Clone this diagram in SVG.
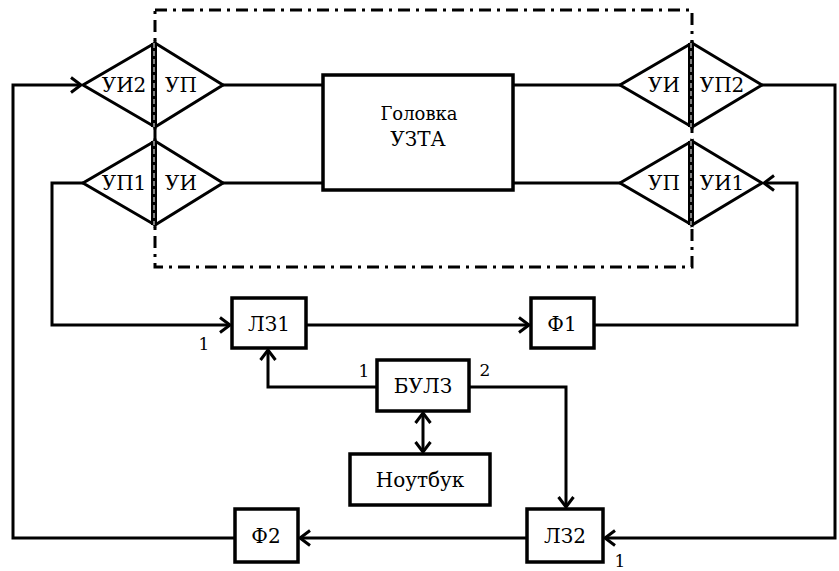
<svg xmlns="http://www.w3.org/2000/svg" width="839" height="571" viewBox="0 0 839 571">
<style>
.box{fill:#fff;stroke:#000;stroke-width:3.5}
.dia{fill:#fff;stroke:#000;stroke-width:3;stroke-linejoin:miter}
.ln{fill:none;stroke:#000;stroke-width:3}
.dd{fill:none;stroke:#000;stroke-width:3;stroke-dasharray:12 6 3 6}
text{font-family:'DejaVu Serif','Liberation Serif','Times New Roman',serif;fill:#000;text-anchor:middle}
.t{font-size:20px}
.s{font-size:18px}
.n{font-size:17px}
</style>
<defs>
<marker id="ar" markerUnits="userSpaceOnUse" markerWidth="20" markerHeight="20" viewBox="-12 -10 14 20" refX="0" refY="0" orient="auto-start-reverse">
<path d="M-10,-7.5 L0,0 L-10,7.5" fill="none" stroke="#000" stroke-width="3"/>
</marker>
</defs>
<rect width="839" height="571" fill="#fff"/>
<g id="frame">
<path class="dd" d="M155,10 H692 V267 H155 Z"/>
</g>
<g id="connectors">
<path class="ln" d="M223,85 H323"/>
<path class="ln" d="M223,183 H323"/>
<path class="ln" d="M513,85 H620"/>
<path class="ln" d="M513,183 H620"/>
<path class="ln" d="M762,85 H835 V538 H605" marker-end="url(#ar)"/>
<path class="ln" d="M594,325 H797 V183 H764" marker-end="url(#ar)"/>
<path class="ln" d="M306,325 H529" marker-end="url(#ar)"/>
<path class="ln" d="M83,183 H52 V325 H230" marker-end="url(#ar)"/>
<path class="ln" d="M235,538 H13 V85 H81" marker-end="url(#ar)"/>
<path class="ln" d="M527,538 H300" marker-end="url(#ar)"/>
<path class="ln" d="M377,387 H268 V350" marker-end="url(#ar)"/>
<path class="ln" d="M469,387 H566 V507" marker-end="url(#ar)"/>
<path class="ln" d="M423,413 V452" marker-start="url(#ar)" marker-end="url(#ar)"/>
<text class="n" x="204" y="350">1</text>
<text class="n" x="364" y="377">1</text>
<text class="n" x="485" y="376">2</text>
<text class="n" x="620" y="567">1</text>
</g>
<g id="ui2-up">
<path class="dia" d="M155,43 L83,85 L155,127 Z"/>
<path class="dia" d="M155,43 L223,85 L155,127 Z"/>
<rect x="151" y="43" width="6" height="84" fill="#000"/>
<line x1="154" y1="43" x2="154" y2="127" stroke="#fff" stroke-width="1" stroke-dasharray="5 3"/>
<text class="t" x="124" y="92">УИ2</text>
<text class="t" x="181" y="92">УП</text>
</g>
<g id="up1-ui">
<path class="dia" d="M155,141 L83,183 L155,225 Z"/>
<path class="dia" d="M155,141 L223,183 L155,225 Z"/>
<rect x="151" y="141" width="6" height="84" fill="#000"/>
<line x1="154" y1="141" x2="154" y2="225" stroke="#fff" stroke-width="1" stroke-dasharray="5 3"/>
<text class="t" x="124" y="190">УП1</text>
<text class="t" x="181" y="190">УИ</text>
</g>
<g id="ui-up2">
<path class="dia" d="M692,43 L620,85 L692,127 Z"/>
<path class="dia" d="M692,43 L762,85 L692,127 Z"/>
<rect x="688" y="43" width="6" height="84" fill="#000"/>
<line x1="691" y1="43" x2="691" y2="127" stroke="#fff" stroke-width="1" stroke-dasharray="5 3"/>
<text class="t" x="664" y="92">УИ</text>
<text class="t" x="722" y="92">УП2</text>
</g>
<g id="up-ui1">
<path class="dia" d="M692,141 L620,183 L692,225 Z"/>
<path class="dia" d="M692,141 L762,183 L692,225 Z"/>
<rect x="688" y="141" width="6" height="84" fill="#000"/>
<line x1="691" y1="141" x2="691" y2="225" stroke="#fff" stroke-width="1" stroke-dasharray="5 3"/>
<text class="t" x="664" y="190">УП</text>
<text class="t" x="722" y="190">УИ1</text>
</g>
<g id="head">
<rect class="box" x="323" y="75" width="190" height="115"/>
<text class="s" x="419" y="120">Головка</text>
<text class="t" x="418" y="146">УЗТА</text>
</g>
<g id="lz1">
<rect class="box" x="232" y="298" width="74" height="50"/>
<text class="t" x="269" y="331">ЛЗ1</text>
</g>
<g id="f1">
<rect class="box" x="531" y="298" width="63" height="50"/>
<text class="t" x="562" y="331">Ф1</text>
</g>
<g id="bulz">
<rect class="box" x="377" y="360" width="92" height="51"/>
<text class="t" x="423" y="393">БУЛЗ</text>
</g>
<g id="notebook">
<rect class="box" x="350" y="454" width="140" height="51"/>
<text class="t" x="420" y="487">Ноутбук</text>
</g>
<g id="f2">
<rect class="box" x="235" y="509" width="63" height="53"/>
<text class="t" x="266" y="543">Ф2</text>
</g>
<g id="lz2">
<rect class="box" x="527" y="509" width="76" height="53"/>
<text class="t" x="565" y="543">ЛЗ2</text>
</g>
</svg>
